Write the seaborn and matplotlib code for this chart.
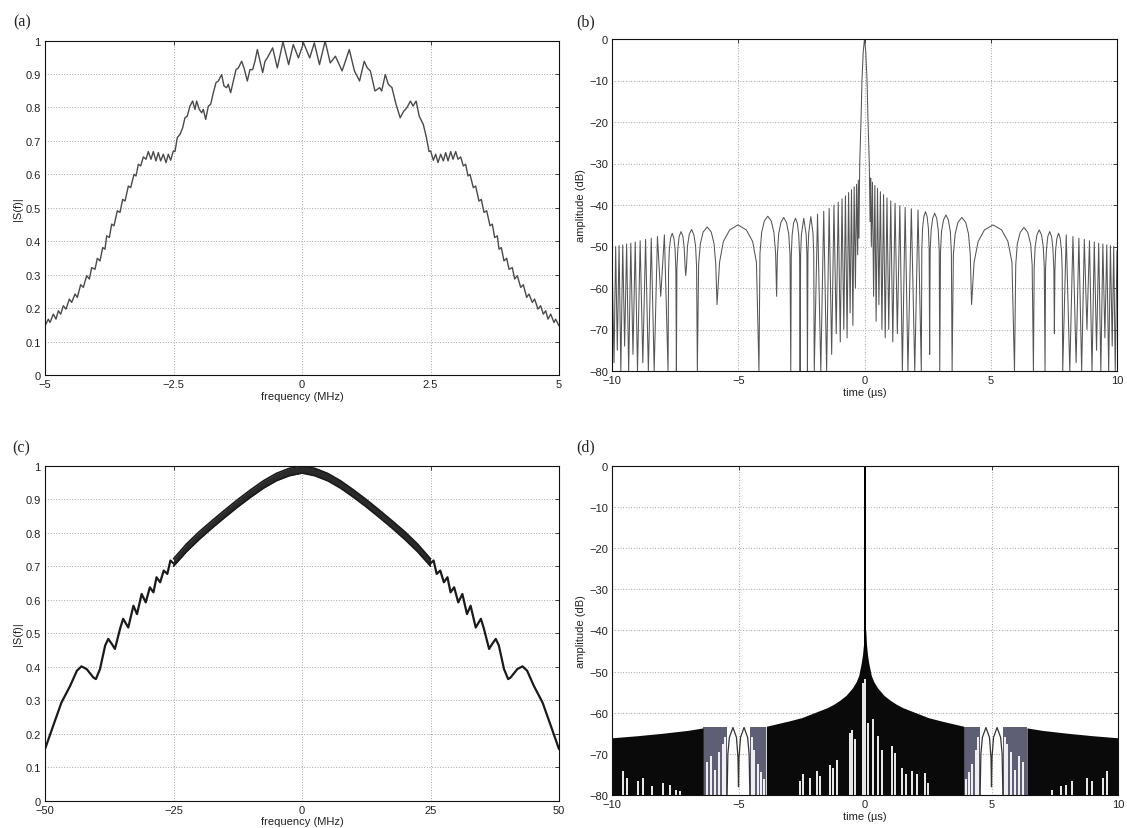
import numpy as np
import matplotlib
matplotlib.use("Agg")
import matplotlib.pyplot as plt
import seaborn as sns

# ---------------- (a) spectrum magnitude, 5 MHz span ----------------
A_FREQ = [-5.000, -4.935, -4.903, -4.838, -4.786, -4.741, -4.695, -4.643, -4.591, -4.526,
          -4.481, -4.416, -4.371, -4.306, -4.254, -4.189, -4.137, -4.092, -4.027, -3.982,
          -3.930, -3.878, -3.833, -3.800, -3.748, -3.703, -3.658, -3.593, -3.541, -3.489,
          -3.443, -3.378, -3.333, -3.268, -3.229, -3.184, -3.138, -3.087, -3.035, -2.990,
          -2.938, -2.893, -2.841, -2.795, -2.750, -2.698, -2.646, -2.601, -2.555, -2.503,
          -2.471, -2.426, -2.374, -2.322, -2.277, -2.232, -2.180, -2.128, -2.082, -2.050,
          -1.998, -1.952, -1.920, -1.874, -1.822, -1.777, -1.725, -1.673, -1.628, -1.563,
          -1.518, -1.466, -1.434, -1.388, -1.336, -1.284, -1.239, -1.174, -1.128, -1.064,
          -1.012, -0.960, -0.915, -0.869, -0.817, -0.765, -0.720, -0.675, -0.623, -0.571,
          -0.525, -0.480,
          -0.37, -0.26, -0.17, -0.07, 0.03, 0.15, 0.24, 0.34, 0.45, 0.55, 0.65, 0.78, 0.92,
          1.02, 1.12, 1.21, 1.27, 1.33, 1.42, 1.51, 1.55, 1.62, 1.68, 1.75, 1.83, 1.91, 1.98,
          2.04, 2.11, 2.16, 2.22, 2.28, 2.36, 2.42,
          2.471, 2.503, 2.555, 2.601, 2.646, 2.698, 2.750, 2.795, 2.841, 2.893, 2.938, 2.990,
          3.035, 3.087, 3.138, 3.184, 3.229, 3.268, 3.333, 3.378, 3.443, 3.489, 3.541, 3.593,
          3.658, 3.703, 3.748, 3.800, 3.833, 3.878, 3.930, 3.982, 4.027, 4.092, 4.137, 4.189,
          4.254, 4.306, 4.371, 4.416, 4.481, 4.526, 4.591, 4.643, 4.695, 4.741, 4.786, 4.838,
          4.903, 4.935, 5.000]
A_MAG = [0.147, 0.167, 0.157, 0.182, 0.167, 0.192, 0.182, 0.207, 0.197, 0.227,
         0.217, 0.242, 0.232, 0.270, 0.262, 0.297, 0.287, 0.321, 0.316, 0.349,
         0.341, 0.381, 0.376, 0.416, 0.411, 0.451, 0.446, 0.491, 0.486, 0.525,
         0.520, 0.565, 0.560, 0.600, 0.595, 0.630, 0.625, 0.652, 0.645, 0.668,
         0.645, 0.668, 0.640, 0.665, 0.640, 0.660, 0.635, 0.660, 0.642, 0.670,
         0.668, 0.710, 0.719, 0.739, 0.769, 0.774, 0.804, 0.819, 0.794, 0.819,
         0.794, 0.784, 0.794, 0.764, 0.804, 0.809, 0.844, 0.874, 0.879, 0.898,
         0.864, 0.859, 0.869, 0.844, 0.879, 0.913, 0.918, 0.938, 0.918, 0.879,
         0.913, 0.913, 0.938, 0.973, 0.938, 0.904, 0.938, 0.948, 0.963, 0.978,
         0.948, 0.918,
         0.996, 0.928, 0.988, 0.948, 0.993, 0.948, 0.993, 0.928, 0.998, 0.933, 0.953, 0.909, 0.973,
         0.909, 0.879, 0.938, 0.918, 0.909, 0.849, 0.859, 0.849, 0.898, 0.869, 0.859, 0.809, 0.769, 0.789,
         0.799, 0.819, 0.804, 0.819, 0.774, 0.749, 0.710,
         0.668, 0.670, 0.642, 0.660, 0.635, 0.660, 0.640, 0.665, 0.640, 0.668, 0.645, 0.668,
         0.645, 0.652, 0.625, 0.630, 0.595, 0.600, 0.560, 0.565, 0.520, 0.525, 0.486, 0.491,
         0.446, 0.451, 0.411, 0.416, 0.376, 0.381, 0.341, 0.349, 0.316, 0.321, 0.287, 0.297,
         0.262, 0.270, 0.232, 0.242, 0.217, 0.227, 0.197, 0.207, 0.182, 0.192, 0.167, 0.182,
         0.157, 0.167, 0.147]

# ---------------- (b) compressed pulse, dB ----------------
B_TIME = [-10.00, -9.92, -9.855, -9.79, -9.72, -9.65, -9.575, -9.50, -9.42, -9.34, -9.255, -9.17,
          -9.08, -8.99, -8.885, -8.78, -8.67, -8.56, -8.445, -8.33, -8.20, -8.07, -7.925, -7.78,
          -7.76, -7.73, -7.68, -7.615, -7.55, -7.50, -7.47, -7.45,
          -7.43, -7.39, -7.34, -7.265, -7.19, -7.14, -7.10, -7.08,
          -7.05, -7.01, -6.94, -6.85, -6.76, -6.69, -6.65, -6.62,
          -6.57, -6.50, -6.39, -6.23, -6.07, -5.96, -5.89, -5.84,
          -5.74, -5.59, -5.34, -5.01, -4.68, -4.43, -4.28, -4.18,
          -4.14, -4.075, -3.97, -3.83, -3.69, -3.585, -3.52, -3.48,
          -3.45, -3.40, -3.31, -3.20, -3.09, -3.00, -2.95, -2.92,
          -2.90, -2.865, -2.81, -2.735, -2.66, -2.605, -2.57, -2.55,
          -2.53, -2.50, -2.405, -2.31, -2.28, -2.26,
          -2.24, -2.21, -2.125, -2.04, -2.01, -1.99,
          -1.86, -1.73, -1.615, -1.50, -1.40, -1.30, -1.21, -1.12, -1.04, -0.96, -0.89, -0.82,
          -0.755, -0.69, -0.63, -0.57, -0.515, -0.46, -0.41, -0.36, -0.315, -0.27, -0.245, -0.22,
          -0.19, -0.14, -0.10, -0.05, 0.00, 0.05, 0.10, 0.14, 0.19, 0.22,
          0.245, 0.27, 0.315, 0.36, 0.41, 0.46, 0.515, 0.57, 0.63, 0.69, 0.755, 0.82, 0.89, 0.96,
          1.04, 1.12, 1.21, 1.30, 1.40, 1.50, 1.61, 1.72, 1.855, 1.99, 2.12, 2.25,
          2.27, 2.30, 2.35, 2.415, 2.48, 2.53, 2.56, 2.58,
          2.60, 2.64, 2.70, 2.78, 2.86, 2.92, 2.96, 2.98,
          3.01, 3.05, 3.13, 3.225, 3.32, 3.40, 3.44, 3.47,
          3.52, 3.59, 3.70, 3.855, 4.01, 4.12, 4.19, 4.24,
          4.34, 4.50, 4.75, 5.09, 5.43, 5.68, 5.84, 5.94,
          5.99, 6.05, 6.165, 6.315, 6.465, 6.58, 6.64, 6.69,
          6.72, 6.76, 6.83, 6.92, 7.01, 7.08, 7.12, 7.15,
          7.17, 7.21, 7.26, 7.335, 7.41, 7.46, 7.50, 7.52,
          7.54, 7.57, 7.62, 7.685, 7.75, 7.80, 7.83, 7.85,
          7.99, 8.13, 8.255, 8.38, 8.49, 8.60, 8.705, 8.81, 8.91, 9.01, 9.10, 9.19, 9.275, 9.36,
          9.44, 9.52, 9.595, 9.67, 9.74, 9.81, 9.87, 9.93, 10.00]
B_DB = [-52, -78, -50.0, -75, -49.8, -80, -49.6, -74, -49.4, -80, -49.2, -76,
        -48.9, -80, -48.6, -78, -48.3, -80, -48.0, -80, -47.6, -62, -47.2, -80,
        -55.8, -50.8, -48.0, -46.8, -48.0, -50.8, -55.8, -80,
        -55.4, -50.4, -47.6, -46.4, -47.6, -50.4, -55.4, -57,
        -54.9, -49.9, -47.1, -45.9, -47.1, -49.9, -54.9, -80,
        -54.3, -49.3, -46.5, -45.3, -46.5, -49.3, -54.3, -64,
        -53.8, -48.8, -46.0, -44.8, -46.0, -48.8, -53.8, -80,
        -51.7, -46.7, -43.9, -42.7, -43.9, -46.7, -51.7, -62,
        -52.0, -47.0, -44.2, -43.0, -44.2, -47.0, -52.0, -80,
        -52.2, -47.2, -44.4, -43.2, -44.4, -47.2, -52.2, -80,
        -52.0, -47.2, -43.2, -47.2, -52.0, -80,
        -51.6, -46.8, -42.8, -46.8, -51.6, -80,
        -42.2, -80, -41.5, -80, -40.8, -76, -40.0, -71, -39.3, -73, -38.5, -70,
        -37.8, -72, -37.0, -66, -36.3, -69, -35.6, -60, -35.0, -52, -34.0, -48,
        -30, -20, -10, -3, 0, -3, -10, -20, -30, -44,
        -33.5, -50, -34.5, -62, -35.3, -68, -36.0, -64, -36.8, -70, -37.5, -72, -38.3, -70,
        -39.0, -73, -39.6, -71, -40.2, -80, -40.6, -80, -40.9, -80, -41.2, -80,
        -50.6, -45.6, -42.8, -41.6, -42.8, -45.6, -50.6, -76,
        -51.0, -46.0, -43.2, -42.0, -43.2, -46.0, -51.0, -80,
        -51.4, -46.4, -43.6, -42.4, -43.6, -46.4, -51.4, -80,
        -52.0, -47.0, -44.2, -43.0, -44.2, -47.0, -52.0, -64,
        -53.8, -48.8, -46.0, -44.8, -46.0, -48.8, -53.8, -80,
        -54.4, -49.4, -46.6, -45.4, -46.6, -49.4, -54.4, -80,
        -55.0, -50.0, -47.2, -46.0, -47.2, -50.0, -55.0, -80,
        -55.4, -50.4, -47.6, -46.4, -47.6, -50.4, -55.4, -71,
        -55.8, -50.8, -48.0, -46.8, -48.0, -50.8, -55.8, -80,
        -47.2, -80, -47.6, -78, -48.0, -80, -48.3, -70, -48.6, -80, -48.9, -75, -49.2, -80,
        -49.4, -72, -49.6, -80, -49.8, -74, -50.0, -80, -51]

# ---------------- (c) spectrum magnitude, 50 MHz span ----------------
C_LEFT_F = [-50.0, -48.4, -46.8, -45.1, -43.8, -42.9, -41.9, -40.6, -40.1, -39.3, -38.3, -37.7,
            -37.0, -36.4, -35.4, -34.8, -33.8, -32.8, -32.1, -31.2, -30.4, -29.6, -28.9, -28.3,
            -27.6, -26.9, -26.2, -25.6, -24.9]
C_LEFT_M = [0.154, 0.224, 0.293, 0.343, 0.388, 0.401, 0.393, 0.368, 0.363, 0.393, 0.463, 0.483,
            0.468, 0.453, 0.513, 0.543, 0.517, 0.582, 0.557, 0.617, 0.592, 0.637, 0.622, 0.667,
            0.652, 0.687, 0.677, 0.717, 0.707]
C_RIGHT_F = [24.9, 25.6, 26.2, 26.9, 27.6, 28.3, 28.9, 29.6, 30.4, 31.2, 32.1, 32.8, 33.8, 34.8,
             35.4, 36.4, 37.0, 37.7, 38.3, 39.3, 40.1, 40.6, 41.9, 42.9, 43.8, 45.1, 46.8, 48.4, 50.0]
C_RIGHT_M = [0.707, 0.717, 0.677, 0.687, 0.652, 0.667, 0.622, 0.637, 0.592, 0.617, 0.557, 0.582,
             0.517, 0.543, 0.513, 0.453, 0.468, 0.483, 0.463, 0.393, 0.363, 0.368, 0.393, 0.401,
             0.388, 0.343, 0.293, 0.224, 0.154]
C_BAND_F = [-25, -22.5, -20, -17.5, -15, -12.5, -10, -7.5, -5, -2.5, 0,
            2.5, 5, 7.5, 10, 12.5, 15, 17.5, 20, 22.5, 25]
C_BAND_UP = [0.722, 0.766, 0.803, 0.836, 0.868, 0.899, 0.928, 0.955, 0.977, 0.992, 1.0,
             0.992, 0.977, 0.955, 0.928, 0.899, 0.868, 0.836, 0.803, 0.766, 0.722]
C_BAND_LO = [0.700, 0.743, 0.780, 0.814, 0.846, 0.877, 0.906, 0.933, 0.955, 0.970, 0.978,
             0.970, 0.955, 0.933, 0.906, 0.877, 0.846, 0.814, 0.780, 0.743, 0.700]

# ---------------- (d) compressed pulse, dB ----------------
D_OUTL_T = [-10, -9, -8, -7, -6.4]
D_OUTL_TOP = [-66.1, -65.6, -65.0, -64.3, -63.7]
D_OUTR_T = [6.4, 7, 8, 9, 10]
D_OUTR_TOP = [-63.7, -64.3, -65.0, -65.6, -66.1]
D_IN_T = [-3.9, -3.0, -2.5, -2.0, -1.5, -1.25, -1.0, -0.75, -0.5, -0.35, -0.25, -0.15, -0.10,
          -0.06, -0.03, 0.03, 0.06, 0.10, 0.15, 0.25, 0.35, 0.5, 0.75, 1.0, 1.25, 1.5, 2.0,
          2.5, 3.0, 3.9]
D_IN_TOP = [-63.3, -62.0, -61.2, -60.0, -58.8, -58.0, -57.0, -55.8, -54.0, -52.5, -51.0, -48.0,
            -46.0, -43.5, -40.0, -40.0, -43.5, -46.0, -48.0, -51.0, -52.5, -54.0, -55.8, -57.0,
            -58.0, -58.8, -60.0, -61.2, -62.0, -63.3]
D_GRAY_START = [-6.4, -4.55, 3.9, 5.45]
D_GRAY_END = [-5.45, -3.9, 4.55, 6.4]
D_GRAY_TOP = -63.5
D_ARCH_L_T = [-5.45, -5.42, -5.36, -5.22, -5.08, -5.02, -5.0, -4.98, -4.92, -4.78, -4.64, -4.58, -4.55]
D_ARCH_R_T = [4.55, 4.58, 4.64, 4.78, 4.92, 4.98, 5.0, 5.02, 5.08, 5.22, 5.36, 5.42, 5.45]
D_ARCH_DB = [-80, -70, -66, -63.6, -66, -71, -78, -71, -66, -63.6, -66, -70, -80]
D_SPIKE_T = [-0.012, -0.004, 0.0, 0.004, 0.012]
D_SPIKE_DB = [-45, -10, 0, -10, -45]
D_GAP_T = [-9.58, -9.42, -8.96, -8.76, -8.43, -7.97, -7.71, -7.47, -7.31,
           -6.25, -6.10, -5.92, -5.78, -5.62, -5.52, -4.48, -4.38, -4.24, -4.10, -3.98,
           -2.57, -2.44, -2.17, -1.91, -1.78, -1.38, -1.25, -1.12, -0.59, -0.53, -0.40, -0.07, 0.0,
           0.13, 0.33, 0.53, 0.66, 1.05, 1.19, 1.45, 1.64, 1.84, 2.04, 2.37, 2.50,
           3.98, 4.10, 4.24, 4.38, 4.48, 5.52, 5.62, 5.78, 5.92, 6.10, 6.25,
           7.40, 7.75, 7.95, 8.20, 8.76, 8.96, 9.42, 9.58]
D_GAP_TOP = [-74.2, -75.9, -76.7, -75.9, -77.9, -77.1, -77.5, -78.7, -79.0,
             -72.0, -70.5, -74.0, -69.5, -67.5, -66.0, -66.0, -69.0, -72.5, -74.5, -76.0,
             -76.7, -75.0, -75.8, -74.2, -75.4, -72.6, -73.4, -71.4, -64.9, -64.1, -66.5, -52.7, -51.9,
             -62.4, -61.6, -65.7, -69.0, -68.1, -69.8, -73.4, -75.0, -74.2, -75.0, -74.6, -77.1,
             -76.0, -74.5, -72.5, -69.0, -66.0, -66.0, -67.5, -69.5, -74.0, -70.5, -72.0,
             -78.7, -77.9, -77.5, -76.7, -75.9, -76.7, -75.9, -74.2]

# ---------------- figure ----------------
sns.set_style("white")
plt.rcParams["font.family"] = ["Liberation Sans", "DejaVu Sans"]
plt.rcParams["axes.unicode_minus"] = True

W, H = 1127, 829
fig = plt.figure(figsize=(W / 100, H / 100), dpi=100)


def make_axes(left, top, right, bottom):
    return fig.add_axes([left / W, 1 - bottom / H, (right - left) / W, (bottom - top) / H])


def style(ax, xlim, ylim, xticks, yticks, xlabel, ylabel):
    ax.set_xlim(*xlim)
    ax.set_ylim(*ylim)
    ax.set_xticks(xticks)
    ax.set_yticks(yticks)
    ax.set_xticklabels([("%g" % v).replace("-", "\u2212") for v in xticks])
    ax.set_yticklabels([("%g" % v).replace("-", "\u2212") for v in yticks])
    ax.set_axisbelow(True)
    ax.grid(True, linestyle=(0, (1, 2.2)), color="#8a8a8a", linewidth=0.6)
    ax.tick_params(direction="in", length=3, width=0.6, top=True, right=True,
                   labelsize=8, pad=3, colors="#222222")
    for s in ax.spines.values():
        s.set_color("#111111")
        s.set_linewidth(0.8)
    ax.set_xlabel(xlabel, fontsize=8, labelpad=1, color="#222222")
    ax.set_ylabel(ylabel, fontsize=8, labelpad=2, color="#222222")


# (a)
axa = make_axes(45, 41.5, 559, 376)
sns.lineplot(x=A_FREQ, y=A_MAG, ax=axa, sort=False, estimator=None,
             color="#4a4a4a", linewidth=1.0)
style(axa, (-5, 5), (0, 1), [-5, -2.5, 0, 2.5, 5], [0, .1, .2, .3, .4, .5, .6, .7, .8, .9, 1],
      "frequency (MHz)", "|S(f)|")

# (b)
axb = make_axes(612, 40, 1117, 372)
sns.lineplot(x=B_TIME, y=B_DB, ax=axb, sort=False, estimator=None,
             color="#555555", linewidth=0.75)
style(axb, (-10, 10), (-80, 0), [-10, -5, 0, 5, 10], list(range(-80, 1, 10)),
      "time (\u00b5s)", "amplitude (dB)")

# (c)
axc = make_axes(45, 466.7, 559, 801.7)
axc.fill_between(C_BAND_F, C_BAND_LO, C_BAND_UP, color="#2a2a2a", linewidth=0)
sns.lineplot(x=C_BAND_F, y=C_BAND_UP, ax=axc, sort=False, estimator=None,
             color="#1a1a1a", linewidth=1.2)
sns.lineplot(x=C_BAND_F, y=C_BAND_LO, ax=axc, sort=False, estimator=None,
             color="#1a1a1a", linewidth=1.2)
sns.lineplot(x=C_LEFT_F, y=C_LEFT_M, ax=axc, sort=False, estimator=None,
             color="#1a1a1a", linewidth=1.6)
sns.lineplot(x=C_RIGHT_F, y=C_RIGHT_M, ax=axc, sort=False, estimator=None,
             color="#1a1a1a", linewidth=1.6)
style(axc, (-50, 50), (0, 1), [-50, -25, 0, 25, 50], [0, .1, .2, .3, .4, .5, .6, .7, .8, .9, 1],
      "frequency (MHz)", "|S(f)|")

# (d)
for_gray = "#5e5e74"
axd = make_axes(612, 466.7, 1118, 796)
for s0, s1 in zip(D_GRAY_START, D_GRAY_END):
    axd.fill_between([s0, s1], [-80, -80], [D_GRAY_TOP, D_GRAY_TOP], color=for_gray, linewidth=0)
axd.fill_between(D_OUTL_T, -80, D_OUTL_TOP, color="#0a0a0a", linewidth=0)
axd.fill_between(D_OUTR_T, -80, D_OUTR_TOP, color="#0a0a0a", linewidth=0)
axd.fill_between(D_IN_T, -80, D_IN_TOP, color="#0a0a0a", linewidth=0)
axd.vlines(D_GAP_T, -80, D_GAP_TOP, color="white", linewidth=1.3)
sns.lineplot(x=D_ARCH_L_T, y=D_ARCH_DB, ax=axd, sort=False, estimator=None,
             color="#333333", linewidth=0.9)
sns.lineplot(x=D_ARCH_R_T, y=D_ARCH_DB, ax=axd, sort=False, estimator=None,
             color="#333333", linewidth=0.9)
sns.lineplot(x=D_SPIKE_T, y=D_SPIKE_DB, ax=axd, sort=False, estimator=None,
             color="#000000", linewidth=0.9)
style(axd, (-10, 10), (-80, 0), [-10, -5, 0, 5, 10], list(range(-80, 1, 10)),
      "time (\u00b5s)", "amplitude (dB)")

# panel letters
for lab, px, py in [("(a)", 13, 22), ("(b)", 576, 22), ("(c)", 12, 448), ("(d)", 576, 447)]:
    fig.text(px / W, 1 - py / H, lab, family=["Liberation Serif", "DejaVu Serif"],
             fontsize=11.5, va="center", ha="left", color="#222222")

fig.savefig("out.png", dpi=100)
